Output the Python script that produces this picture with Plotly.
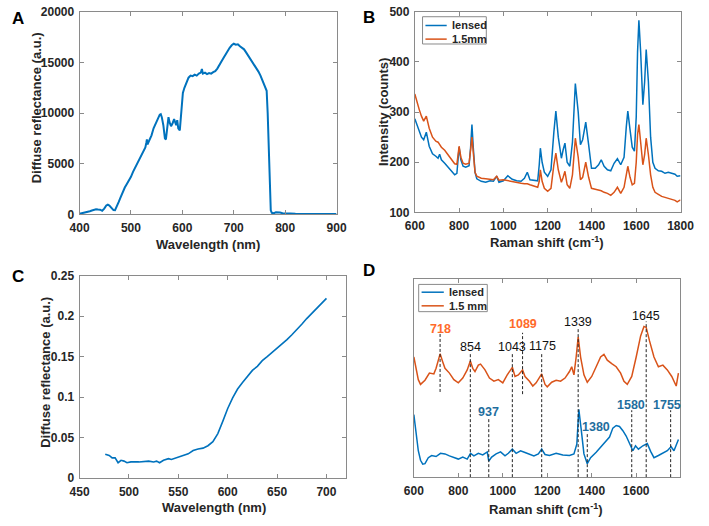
import plotly.graph_objects as go

# ---------------- Panel A: diffuse reflectance spectrum ----------------
a_wavelength = [400, 404, 408, 412, 416, 420, 424, 428, 432, 436, 440, 444, 448, 452, 455, 458, 462, 466, 469,
                472, 476, 480, 484, 488, 492, 496, 500, 504, 508, 512, 516, 520, 524, 528, 530, 531, 532, 536,
                540, 544, 548, 552, 556, 558, 560, 563, 566, 568, 571, 573, 575, 578, 581, 584, 586, 588, 590,
                592, 595, 597, 599, 601, 604, 608, 612, 616, 620, 624, 628, 632, 636, 638, 640, 644, 648, 652,
                656, 660, 664, 668, 672, 676, 680, 684, 688, 692, 696, 700, 704, 708, 712, 716, 720, 724, 728,
                732, 736, 740, 744, 748, 752, 756, 760, 764, 766, 768, 770, 772, 774, 778, 782, 786, 790, 795,
                800, 810, 820, 830, 840, 850, 860, 870, 880, 890, 900]
a_reflectance = [50, 90, 160, 200, 260, 310, 380, 450, 500, 470, 460, 350, 560, 880, 950, 870, 640, 420, 400,
                 700, 1200, 1700, 2250, 2650, 3000, 3350, 3700, 4200, 4600, 4950, 5500, 5900, 6200, 6600, 7100,
                 7400, 6900, 7400, 7800, 8500, 9000, 9400, 9850, 9900, 9600, 8800, 7500, 7400, 8600, 9600, 9100,
                 8700, 9000, 9400, 9100, 8800, 9300, 8500, 8300, 9500, 11200, 12000, 12500, 13000, 13500, 13700,
                 13650, 13800, 13700, 13900, 14000, 14350, 13900, 14000, 13850, 13950, 13900, 14050, 14150,
                 14400, 14700, 15100, 15450, 15800, 16150, 16450, 16700, 16850, 16750, 16800, 16600, 16450,
                 16300, 16000, 15700, 15350, 15000, 14700, 14400, 14100, 13700, 13200, 12700, 12200, 10000,
                 6500, 2800, 400, 150, 120, 200, 220, 170, 100, 110, 80, 60, 70, 40, 55, 35, 45, 30, 40, 35]

# ---------------- Panel B: Raman spectra ----------------
b_shift = [600, 610, 620, 630, 640, 652, 665, 680, 695, 705, 712, 720, 735, 750, 765, 780, 790, 800, 808, 818,
           830, 845, 852, 858, 864, 872, 880, 900, 920, 940, 955, 970, 980, 1000, 1020, 1040, 1060, 1080, 1095,
           1108, 1120, 1140, 1155, 1162, 1167, 1175, 1185, 1200, 1215, 1228, 1237, 1248, 1262, 1270, 1278, 1288,
           1300, 1312, 1325, 1338, 1348, 1358, 1372, 1385, 1398, 1415, 1430, 1442, 1455, 1470, 1485, 1500, 1515,
           1530, 1545, 1555, 1562, 1572, 1582, 1592, 1600, 1606, 1612, 1620, 1630, 1638, 1645, 1655, 1665, 1675,
           1685, 1700, 1715, 1730, 1745, 1760, 1775, 1785, 1800]
b_lensed = [287, 275, 262, 250, 245, 260, 232, 217, 212, 208, 216, 205, 198, 190, 182, 175, 178, 230, 205, 192,
            190, 193, 230, 275, 230, 180, 167, 162, 160, 163, 162, 172, 160, 163, 173, 166, 163, 162, 168, 180,
            165, 163, 163, 195, 228, 200, 180, 172, 185, 260, 302, 250, 208, 225, 238, 200, 192, 240, 357, 300,
            235, 245, 280, 235, 188, 188, 195, 205, 192, 185, 183, 198, 207, 195, 210, 270, 302, 265, 230, 222,
            290, 420, 483, 420, 315, 360, 425, 360, 250, 200, 188, 183, 182, 178, 180, 178, 176, 172, 173]
b_15mm = [336, 318, 305, 292, 282, 292, 268, 250, 242, 240, 235, 230, 224, 215, 207, 197, 196, 232, 210, 198,
          196, 198, 225, 250, 220, 180, 172, 168, 167, 166, 165, 172, 164, 165, 163, 162, 160, 158, 157, 157,
          155, 153, 150, 162, 185, 162, 148, 142, 148, 195, 218, 185, 160, 170, 182, 155, 148, 175, 248, 210,
          165, 170, 200, 170, 148, 146, 145, 143, 140, 138, 134, 140, 150, 138, 150, 178, 192, 170, 155, 158,
          200, 255, 275, 240, 195, 215, 248, 215, 175, 150, 140, 136, 132, 130, 128, 127, 124, 121, 125]

# ---------------- Panel C: diffuse reflectance ----------------
c_wavelength = [476, 480, 483, 486, 489, 492, 495, 498, 502, 510, 520, 525, 528, 531, 535, 540, 543, 550, 560,
                565, 570, 575, 580, 585, 590, 595, 600, 605, 610, 615, 620, 625, 630, 635, 640, 645, 650, 655,
                660, 665, 670, 675, 680, 685, 690, 695, 700]
c_reflectance = [0.0296, 0.028, 0.025, 0.025, 0.019, 0.022, 0.021, 0.019, 0.020, 0.020, 0.021, 0.020, 0.021,
                 0.019, 0.022, 0.024, 0.023, 0.026, 0.030, 0.034, 0.036, 0.037, 0.040, 0.045, 0.055, 0.070,
                 0.086, 0.099, 0.110, 0.118, 0.126, 0.133, 0.138, 0.145, 0.150, 0.155, 0.160, 0.165, 0.171,
                 0.177, 0.183, 0.190, 0.197, 0.203, 0.209, 0.215, 0.222]

# ---------------- Panel D: processed Raman spectra (offset, a.u.) ----------------
d_shift_15mm = [600, 620, 630, 650, 670, 690, 700, 710, 718, 730, 740, 760, 780, 800, 820, 840, 854, 865, 875,
                890, 900, 920, 940, 960, 980, 1000, 1020, 1043, 1055, 1070, 1089, 1100, 1120, 1135, 1150, 1175,
                1190, 1200, 1220, 1240, 1260, 1280, 1300, 1310, 1320, 1330, 1339, 1350, 1365, 1380, 1400, 1420,
                1440, 1455, 1470, 1490, 1510, 1530, 1545, 1560, 1580, 1600, 1620, 1635, 1645, 1660, 1680, 1700,
                1720, 1740, 1760, 1780, 1790]
d_15mm = [0.605, 0.491, 0.467, 0.488, 0.524, 0.520, 0.548, 0.589, 0.621, 0.580, 0.548, 0.524, 0.491, 0.475,
          0.499, 0.540, 0.585, 0.548, 0.532, 0.564, 0.569, 0.540, 0.499, 0.483, 0.491, 0.475, 0.515, 0.553,
          0.507, 0.515, 0.540, 0.507, 0.483, 0.459, 0.475, 0.520, 0.467, 0.455, 0.478, 0.488, 0.483, 0.499,
          0.532, 0.556, 0.515, 0.605, 0.706, 0.605, 0.515, 0.478, 0.507, 0.556, 0.605, 0.618, 0.589, 0.572,
          0.556, 0.524, 0.483, 0.467, 0.507, 0.605, 0.711, 0.759, 0.754, 0.686, 0.605, 0.556, 0.564, 0.540,
          0.507, 0.459, 0.524]
d_shift_lensed = [600, 610, 620, 630, 640, 650, 665, 680, 700, 720, 740, 760, 780, 800, 820, 840, 855, 870, 890,
                  910, 930, 937, 950, 970, 990, 1010, 1025, 1043, 1060, 1080, 1100, 1120, 1140, 1160, 1175, 1190,
                  1210, 1240, 1270, 1300, 1320, 1333, 1342, 1352, 1365, 1380, 1395, 1420, 1440, 1460, 1480, 1495,
                  1510, 1525, 1540, 1555, 1570, 1585, 1597, 1610, 1630, 1650, 1665, 1680, 1700, 1720, 1740, 1757,
                  1770, 1790]
d_lensed = [0.315, 0.215, 0.133, 0.085, 0.065, 0.068, 0.098, 0.109, 0.104, 0.120, 0.117, 0.107, 0.098, 0.091,
            0.101, 0.091, 0.120, 0.107, 0.120, 0.112, 0.127, 0.081, 0.101, 0.117, 0.127, 0.107, 0.120, 0.141,
            0.120, 0.133, 0.124, 0.114, 0.107, 0.117, 0.141, 0.114, 0.109, 0.120, 0.112, 0.109, 0.117, 0.166,
            0.341, 0.247, 0.117, 0.068, 0.098, 0.125, 0.150, 0.179, 0.202, 0.247, 0.260, 0.255, 0.234, 0.207,
            0.166, 0.133, 0.158, 0.141, 0.158, 0.169, 0.130, 0.098, 0.109, 0.120, 0.133, 0.153, 0.133, 0.190]

peak_labels = ["718", "854", "937", "1043", "1089", "1175", "1339", "1380", "1580", "1645", "1755"]
peak_pos = [718, 854, 937, 1043, 1089, 1175, 1339, 1380, 1580, 1645, 1755]
peak_line_top = [0.722, 0.629, 0.296, 0.629, 0.727, 0.629, 0.751, 0.223, 0.337, 0.784, 0.337]
peak_line_bottom = [0.429, 0, 0, 0, 0.418, 0, 0, 0, 0, 0, 0]
peak_label_x = [718, 854, 937, 1040, 1089, 1180, 1339, 1418, 1575, 1645, 1740]
peak_label_y = [0.748, 0.657, 0.328, 0.657, 0.772, 0.662, 0.780, 0.255, 0.361, 0.813, 0.361]
peak_group = ["1.5mm", "both", "lensed", "both", "1.5mm", "both", "both", "lensed", "lensed", "both", "lensed"]

legend_b = ["lensed", "1.5mm"]
legend_d = ["lensed", "1.5 mm"]

# ---------------- styling ----------------
W, H = 709, 526
FONT = "Liberation Sans, Arial, sans-serif"
BLUE = "#0072BD"
ORANGE = "#D95319"
LABEL_COL = {"1.5mm": "#FF6A2A", "lensed": "#1F6E9E", "both": "#111111"}
AXCOL = "#8a8a8a"
TXT = "#262626"


def fx(p):
    return p / W


def fy(p):
    return 1 - p / H


fig = go.Figure()
fig.add_trace(go.Scatter(x=a_wavelength, y=a_reflectance, mode="lines", line=dict(color=BLUE, width=2),
                         showlegend=False, xaxis="x", yaxis="y"))
fig.add_trace(go.Scatter(x=b_shift, y=b_lensed, mode="lines", name=legend_b[0], line=dict(color=BLUE, width=1.5),
                         showlegend=False, xaxis="x2", yaxis="y2"))
fig.add_trace(go.Scatter(x=b_shift, y=b_15mm, mode="lines", name=legend_b[1], line=dict(color=ORANGE, width=1.5),
                         showlegend=False, xaxis="x2", yaxis="y2"))
fig.add_trace(go.Scatter(x=c_wavelength, y=c_reflectance, mode="lines", line=dict(color=BLUE, width=1.6),
                         showlegend=False, xaxis="x3", yaxis="y3"))
fig.add_trace(go.Scatter(x=d_shift_lensed, y=d_lensed, mode="lines", name=legend_d[0],
                         line=dict(color=BLUE, width=1.5), showlegend=False, xaxis="x4", yaxis="y4"))
fig.add_trace(go.Scatter(x=d_shift_15mm, y=d_15mm, mode="lines", name=legend_d[1],
                         line=dict(color=ORANGE, width=1.5), showlegend=False, xaxis="x4", yaxis="y4"))

tickfont = dict(family=FONT, size=12, color=TXT, weight="bold")


def ax(domain, anchor, rng, dtick=None, tick0=None, showlabels=True, ticks="inside", fmt=None, standoff=None):
    d = dict(domain=domain, anchor=anchor, range=rng, showline=True, linecolor=AXCOL, linewidth=1,
             mirror="ticks" if ticks else True, ticks=ticks, ticklen=4, tickcolor=AXCOL, showgrid=False,
             zeroline=False, tickfont=tickfont, showticklabels=showlabels)
    if dtick is not None:
        d["dtick"] = dtick
        d["tick0"] = tick0
    if fmt:
        d["tickformat"] = fmt
    if standoff is not None:
        d["ticklabelstandoff"] = standoff
    return d


fig.update_layout(
    width=W, height=H, margin=dict(l=0, r=0, t=0, b=0),
    paper_bgcolor="white", plot_bgcolor="white", showlegend=False,
    xaxis=ax([fx(72), fx(338)], "y", [400, 900], 100, 400, standoff=2),
    yaxis=ax([fy(213), fy(5)], "x", [0, 20000], 5000, 0, fmt="d", standoff=2),
    xaxis2=ax([fx(419), fx(694)], "y2", [600, 1800], 200, 600, standoff=2),
    yaxis2=ax([fy(211), fy(5)], "x2", [100, 500], 100, 100, standoff=2),
    xaxis3=ax([fx(72), fx(348)], "y3", [450, 720], 50, 450, standoff=2),
    yaxis3=ax([fy(484), fy(276)], "x3", [0, 0.25], 0.05, 0, standoff=2),
    xaxis4=ax([fx(418), fx(693)], "y4", [600, 1795], 200, 600, standoff=2),
    yaxis4=ax([fy(483), fy(279)], "x4", [0, 1], showlabels=False, ticks=""),
)

annotations = []
shapes = []


def txt(text, x, y, size=13, angle=0, color=TXT, weight="bold", xref="paper", yref="paper", xanchor="center"):
    annotations.append(dict(text=text, x=x, y=y, xref=xref, yref=yref, showarrow=False, textangle=angle,
                            font=dict(family=FONT, size=size, color=color, weight=weight),
                            xanchor=xanchor, yanchor="middle"))


# panel letters
txt("A", fx(8), fy(12), size=17, color="black")
txt("B", fx(372), fy(11), size=17, color="black")
txt("C", fx(8), fy(277), size=17, color="black")
txt("D", fx(372), fy(271), size=17, color="black")
# axis titles
txt("Diffuse reflectance (a.u.)", fx(27), fy(104), angle=-90)
txt("Wavelength (nm)", fx(205), fy(244))
txt("Intensity (counts)", fx(386), fy(108), angle=-90)
txt("Raman shift (cm<sup>-1</sup>)", fx(556), fy(241))
txt("Diffuse reflectance (a.u.)", fx(36), fy(375), angle=-90)
txt("Wavelength (nm)", fx(211), fy(514))
txt("Raman shift (cm<sup>-1</sup>)", fx(555), fy(516))


def legend_box(x0, y0, x1, y1, names, rows, line_x0, line_x1, text_x):
    shapes.append(dict(type="rect", xref="paper", yref="paper", x0=fx(x0), x1=fx(x1), y0=fy(y1), y1=fy(y0),
                       fillcolor="white", line=dict(color=AXCOL, width=1), layer="above"))
    for name, ry, col in zip(names, rows, [BLUE, ORANGE]):
        shapes.append(dict(type="line", xref="paper", yref="paper", x0=fx(line_x0), x1=fx(line_x1),
                           y0=fy(ry), y1=fy(ry), line=dict(color=col, width=1.5), layer="above"))
        txt(name, fx(text_x), fy(ry), size=11, xanchor="left")


legend_box(427, 10, 493, 38, legend_b, [19, 33], 430, 452, 455)
legend_box(423, 285, 494, 313, legend_d, [293, 307], 426, 449, 452)

for lab, pos, top, bot, lx, ly, grp in zip(peak_labels, peak_pos, peak_line_top, peak_line_bottom,
                                           peak_label_x, peak_label_y, peak_group):
    shapes.append(dict(type="line", xref="x4", yref="y4", x0=pos, x1=pos, y0=bot, y1=top,
                       line=dict(color="#222222", width=1, dash="3px,2px")))
    txt(lab, lx, ly, size=12.5, color=LABEL_COL[grp], weight="normal" if grp == "both" else "bold",
        xref="x4", yref="y4")

fig.update_layout(annotations=annotations, shapes=shapes)
fig.write_html("out.html")
